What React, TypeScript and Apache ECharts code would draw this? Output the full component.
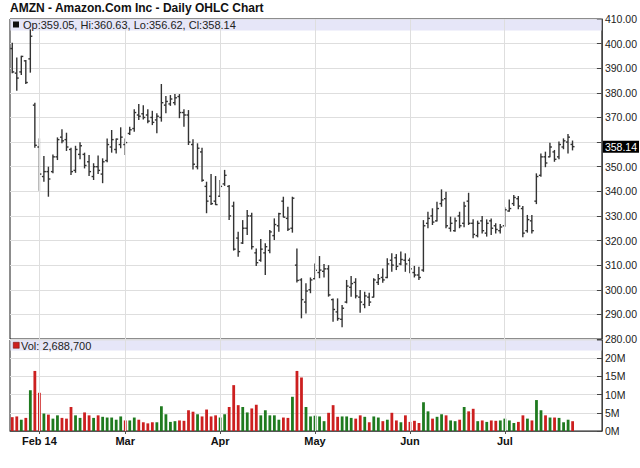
import React, { useEffect, useRef } from "react";
import * as echarts from "echarts";

// Trading days (2014), with empty padding days at the end of July
const jan14 = [24, 27, 28, 29, 30, 31];
const feb14 = [3, 4, 5, 6, 7, 10, 11, 12, 13, 14, 18, 19, 20, 21, 24, 25, 26, 27, 28];
const mar14 = [3, 4, 5, 6, 7, 10, 11, 12, 13, 14, 17, 18, 19, 20, 21, 24, 25, 26, 27, 28, 31];
const apr14 = [1, 2, 3, 4, 7, 8, 9, 10, 11, 14, 15, 16, 17, 21, 22, 23, 24, 25, 28, 29, 30];
const may14 = [1, 2, 5, 6, 7, 8, 9, 12, 13, 14, 15, 16, 19, 20, 21, 22, 23, 27, 28, 29, 30];
const jun14 = [2, 3, 4, 5, 6, 9, 10, 11, 12, 13, 16, 17, 18, 19, 20, 23, 24, 25, 26, 27, 30];
const jul14 = [1, 2, 3, 7, 8, 9, 10, 11, 14, 15, 16, 17, 18, 21, 22, 23, 24, 25, 28, 29, 30, 31];

const tickDates = ["2014-02-03", "2014-03-03", "2014-04-01", "2014-05-01", "2014-06-02", "2014-07-01"];
const tickLabels = ["Feb 14", "Mar", "Apr", "May", "Jun", "Jul"];

const priceTicks = { min: 280, max: 410, step: 10 };
const volTicks = { min: 0, max: 25, step: 5 };

const openP = [
  398, 388, 388.5, 393, 393.8, 375, 358, 346, 348, 348,
  354, 362, 361, 357, 348.5, 355, 355, 352, 346, 350,
  347, 352.5, 358, 357, 359, 359, 363.5, 365.5, 371, 371.5,
  371, 370, 369, 370, 375, 375.5, 376, 378.5, 372, 371,
  359, 350, 356, 342, 338, 336, 338, 343, 342, 334,
  321, 319, 325, 330, 315, 312, 315, 316, 322, 326,
  336, 329, 325, 310, 304, 295, 300, 304.5, 307, 307.5,
  308.5, 296, 291, 288, 295, 301, 303, 297, 294, 297,
  297, 303, 305, 305, 312, 313, 310.5, 312, 312, 307,
  306, 308, 327, 330, 328, 335, 337, 325, 324, 330,
  327, 336, 327, 322, 328, 323, 328, 326, 324, 326,
  332, 335, 337, 333, 324, 328, 336, 346.5, 354, 354,
  356, 354, 358, 360, 359.05,
];
const highP = [
  400.4, 394.4, 395.1, 393.3, 405.8, 376, 361.5, 354.3, 350, 355,
  361.9, 365.2, 363.8, 357.7, 358.5, 359.9, 355.7, 354.7, 351.4, 354.5,
  353.4, 361.5, 364.9, 361.5, 366, 361.5, 366.2, 373.3, 375.5, 375,
  373.3, 372.7, 371.7, 383.6, 378.7, 379.1, 379.5, 379.5, 373.3, 373,
  361.1, 359.5, 357.7, 343.9, 347, 346.2, 344.6, 348.7, 342.6, 335.8,
  323.6, 328.3, 332.4, 331.3, 316.8, 320.6, 318.9, 324.3, 329, 331.3,
  337.8, 333.7, 337.8, 316.8, 304.7, 302.6, 305, 310.7, 313.7, 310.5,
  310, 296.5, 296.5, 293.8, 304, 305.6, 304.7, 299.9, 299.2, 298.8,
  304.7, 306.4, 308.6, 312.8, 314.8, 314.5, 315.5, 314.8, 313, 309.7,
  309.4, 328.3, 331.7, 333.1, 335.8, 340.8, 339.8, 329.7, 329.4, 331.7,
  335.8, 339.4, 328.6, 328.1, 330, 328.6, 329, 327, 326.7, 333.5,
  336.7, 338.5, 338.1, 334, 330.4, 330.4, 347.3, 355.4, 356.1, 359.7,
  356.8, 360.2, 361.5, 363.3, 360.63,
];
const lowP = [
  388, 380.9, 387.3, 383.6, 388.2, 357.7, 340.2, 343.9, 337.8, 347.3,
  352.7, 359.5, 356.4, 346.6, 347.5, 353, 349.3, 346.2, 344.6, 347,
  343.3, 351.8, 355.7, 355.4, 357.5, 354.7, 362.9, 364.2, 369, 369.2,
  367.6, 366.9, 363.6, 368.3, 371.7, 374.7, 375, 369.7, 366.2, 358.8,
  348.9, 348.9, 343.9, 331.1, 334.4, 334.4, 337.8, 342.2, 328.3, 315.9,
  313.4, 318.6, 322.3, 316.4, 309.7, 311.4, 306, 314.8, 320.2, 323.6,
  329.4, 323.9, 323.2, 303, 288.4, 290.4, 298.6, 304.3, 304.7, 305,
  297.2, 287, 287.4, 284.8, 294.5, 297.2, 296.5, 290.7, 292.5, 293.4,
  296.9, 301.9, 302.9, 304.7, 307.3, 308, 310, 307.3, 306.7, 305,
  304, 307.3, 325, 326.3, 327.7, 333.7, 325, 323.6, 323.6, 325,
  325.4, 326.3, 320.9, 321.3, 322.9, 321.6, 322.3, 322.9, 322.9, 325.6,
  331.7, 334, 332.7, 321.3, 323.2, 322.9, 334.8, 345.9, 349.8, 353.8,
  352, 353, 357.1, 355.4, 356.62,
];
const closeP = [
  388.5, 386, 394.8, 384.2, 403, 358.7, 347, 348, 345, 354,
  361, 360.5, 358, 348, 357, 358.5, 350.5, 348, 350, 348.5,
  352, 359, 361, 361.2, 362, 359.8, 365, 372, 370.5, 370,
  368.5, 368, 370.5, 376, 376.5, 377.5, 378, 372, 371, 360,
  351, 357.5, 344.5, 336, 335, 334.6, 342, 346.5, 330, 316.5,
  315.5, 325, 330, 317.5, 311, 316.5, 317.5, 323.5, 326.5, 330.9,
  329.5, 324.6, 337.2, 303.8, 296, 299.5, 304, 307.9, 308, 308.5,
  297.9, 292, 288.3, 292.5, 301.5, 302.5, 297.5, 295, 297.5, 295,
  304, 304.5, 304, 310.5, 310, 309.5, 312.3, 310.5, 308.5, 306,
  305, 326, 329, 327.5, 333, 336.5, 326, 327, 328, 326,
  334, 327, 322.5, 327, 324, 327, 325, 324.5, 325.5, 332.5,
  333, 337.5, 334, 323, 328.5, 324, 346, 354, 351.5, 358,
  353, 359, 360.5, 362, 358.14,
];
// volume in millions
const volumeM = [
  3.8, 4.0, 3.1, 3.6, 11.2, 16.5, 10.5, 4.8, 4.5, 3.4,
  4.3, 3.6, 3.4, 6.6, 4.3, 3.6, 5.1, 4.3, 3.6, 4.3,
  3.9, 3.7, 3.7, 3.1, 4.0, 2.9, 2.9, 3.7, 3.1, 2.4,
  2.1, 2.4, 2.4, 6.8, 4.6, 2.5, 2.7, 2.9, 2.8, 5.7,
  5.3, 4.6, 4.0, 5.9, 4.0, 4.3, 3.7, 4.6, 6.6, 12.6,
  7.1, 6.6, 5.1, 6.2, 7.2, 4.3, 5.7, 4.3, 4.3, 3.1,
  3.7, 3.6, 9.4, 16.5, 14.7, 6.6, 4.0, 4.2, 4.0, 2.7,
  5.0, 7.1, 3.9, 4.0, 4.0, 3.6, 3.4, 4.3, 3.9, 2.4,
  4.0, 3.7, 2.7, 3.1, 5.0, 2.9, 2.4, 4.3, 2.5, 2.8,
  2.2, 7.9, 5.4, 3.4, 3.9, 4.6, 4.3, 2.9, 2.7, 3.1,
  6.6, 5.4, 6.1, 2.7, 2.9, 2.5, 2.9, 2.8, 2.9, 3.4,
  2.9, 2.2, 2.5, 4.3, 3.4, 2.9, 8.5, 5.7, 4.3, 3.7,
  3.7, 3.6, 2.4, 3.1, 2.6887,
];

const UP = "#1f7a1f";
const DOWN = "#cc1f1f";
const BAR = "#333333";
const FONT = "'Liberation Sans', Arial, sans-serif";

function buildDates(): string[] {
  const out: string[] = [];
  const add = (m: string, days: number[]) =>
    days.forEach((d) => out.push(`2014-${m}-${d < 10 ? "0" + d : d}`));
  add("01", jan14);
  add("02", feb14);
  add("03", mar14);
  add("04", apr14);
  add("05", may14);
  add("06", jun14);
  add("07", jul14);
  return out;
}

export default function App() {
  const ref = useRef<HTMLDivElement>(null);
  useEffect(() => {
    if (!ref.current) return;
    const chart = echarts.init(ref.current, null, { renderer: "svg" });
    const dates = buildDates();
    const last = closeP.length - 1;
    const lastClose = closeP[last];
    const ohlc = closeP.map((c, i) => [i, openP[i], highP[i], lowP[i], c]);
    const vols = volumeM.map((v, i) => {
      const prev = i === 0 ? openP[0] : closeP[i - 1];
      return { value: v, itemStyle: { color: closeP[i] >= prev ? UP : DOWN } };
    });
    const tickIdx = tickDates.map((d) => dates.indexOf(d));
    const isTick = (i: number) => tickIdx.indexOf(i) >= 0;
    const gridMarks = tickDates.map((d) => ({ xAxis: d }));
    const gridLineStyle = { color: "#dedede", width: 1, type: "solid" as const };
    const fmt2 = (n: number) => n.toFixed(2);
    const volText =
      "Vol: " + Math.round(volumeM[last] * 1e6).toLocaleString("en-US");
    const legendText = `Op:${fmt2(openP[last])}, Hi:${fmt2(highP[last])}, Lo:${fmt2(lowP[last])}, Cl:${fmt2(lastClose)}`;

    chart.setOption({
      animation: false,
      backgroundColor: "#ffffff",
      textStyle: { fontFamily: FONT },
      grid: [
        { left: 10, top: 19, width: 592, height: 320, show: true, borderColor: "#1a1a1a", borderWidth: 1, backgroundColor: "transparent" },
        { left: 10, top: 340, width: 592, height: 91, show: true, borderColor: "#1a1a1a", borderWidth: 1, backgroundColor: "transparent" },
      ],
      xAxis: [
        {
          type: "category", gridIndex: 0, data: dates, boundaryGap: true,
          axisLine: { show: false }, axisTick: { show: false }, axisLabel: { show: false }, splitLine: { show: false },
        },
        {
          type: "category", gridIndex: 1, data: dates, boundaryGap: true,
          axisLine: { show: true, lineStyle: { color: "#555", width: 1 } },
          axisTick: { show: true, interval: (i: number) => isTick(i), alignWithLabel: true, length: 3, lineStyle: { color: "#555" } },
          axisLabel: {
            show: true, interval: (i: number) => isTick(i), margin: 4,
            formatter: (_v: string, i: number) => { const k = tickIdx.indexOf(i); return k >= 0 ? tickLabels[k] : ""; },
            fontFamily: FONT, fontSize: 11, fontWeight: "bold", color: "#111",
          },
          splitLine: { show: false },
        },
      ],
      yAxis: [
        {
          type: "value", gridIndex: 0, position: "right", min: priceTicks.min, max: priceTicks.max, interval: priceTicks.step,
          axisLine: { show: true, lineStyle: { color: "#444", width: 1 } },
          axisTick: { show: true, inside: true, length: 5, lineStyle: { color: "#444" } },
          axisLabel: {
            // the tick label hidden behind the last-price tag is left out
            formatter: (v: number) => (Math.abs(v - lastClose) < 5 ? "" : v.toFixed(2)),
            margin: 3, fontFamily: FONT, fontSize: 10.5, color: "#222",
          },
          splitLine: { show: true, lineStyle: gridLineStyle },
        },
        {
          type: "value", gridIndex: 1, position: "right", min: volTicks.min, max: volTicks.max, interval: volTicks.step,
          axisLine: { show: true, lineStyle: { color: "#444", width: 1 } },
          axisTick: { show: true, inside: true, length: 5, lineStyle: { color: "#444" } },
          axisLabel: {
            formatter: (v: number) => (v >= volTicks.max ? "" : v + "M"), margin: 3,
            fontFamily: FONT, fontSize: 10.5, color: "#222",
          },
          splitLine: { show: true, lineStyle: gridLineStyle },
        },
      ],
      graphic: [
        { type: "text", left: 10, top: 2, z: 10, style: { text: "AMZN - Amazon.Com Inc - Daily OHLC Chart", font: `bold 12px ${FONT}`, fill: "#111" } },
        { type: "rect", left: 10.5, top: 19.5, z: 1, shape: { width: 591, height: 11 }, style: { fill: "#e6e6f8" } },
        { type: "rect", left: 13, top: 21.5, z: 10, shape: { width: 6, height: 6 }, style: { fill: "#111" } },
        { type: "text", left: 23, top: 19.5, z: 10, style: { text: legendText, font: `11px 'Liberation Sans Narrow', ${FONT}`, fill: "#222" } },
        { type: "rect", left: 10.5, top: 340.5, z: 1, shape: { width: 591, height: 10 }, style: { fill: "#e6e6f8" } },
        { type: "rect", left: 13, top: 342, z: 10, shape: { width: 6, height: 6 }, style: { fill: DOWN, stroke: "#600", lineWidth: 0.5 } },
        { type: "text", left: 21, top: 340, z: 10, style: { text: volText, font: `11px 'Liberation Sans Narrow', ${FONT}`, fill: "#222" } },
      ],
      series: [
        {
          type: "custom", name: "AMZN", xAxisIndex: 0, yAxisIndex: 0, z: 3,
          data: ohlc, encode: { x: 0, y: [1, 2, 3, 4] },
          renderItem: (_p: any, api: any) => {
            const x = api.value(0);
            const pH = api.coord([x, api.value(2)]);
            const pL = api.coord([x, api.value(3)]);
            const pO = api.coord([x, api.value(1)]);
            const pC = api.coord([x, api.value(4)]);
            const style = { stroke: BAR, lineWidth: 1.4 };
            return {
              type: "group",
              children: [
                { type: "line", shape: { x1: pH[0], y1: pH[1], x2: pL[0], y2: pL[1] }, style },
                { type: "line", shape: { x1: pO[0] - 2, y1: pO[1], x2: pO[0], y2: pO[1] }, style },
                { type: "line", shape: { x1: pC[0], y1: pC[1], x2: pC[0] + 2, y2: pC[1] }, style },
              ],
            };
          },
          markLine: {
            silent: true, symbol: ["none", "none"], animation: false,
            data: [
              ...gridMarks.map((m) => ({ ...m, lineStyle: gridLineStyle, label: { show: false } })),
              {
                yAxis: lastClose,
                lineStyle: { color: "rgba(0,0,0,0)", width: 0 },
                label: {
                  show: true, position: "end", distance: 1, formatter: fmt2(lastClose),
                  color: "#fff", backgroundColor: "#000", padding: [1, 2, 0, 2],
                  fontFamily: FONT, fontSize: 10.5,
                },
              },
            ],
          },
        },
        {
          type: "bar", name: "Volume", xAxisIndex: 1, yAxisIndex: 1, z: 3,
          data: vols, barWidth: 2.8,
          markLine: {
            silent: true, symbol: ["none", "none"], animation: false,
            lineStyle: gridLineStyle, label: { show: false },
            data: gridMarks,
          },
        },
      ],
    });
    return () => chart.dispose();
  }, []);
  return <div ref={ref} style={{ position: "fixed", left: 0, top: 0, width: 640, height: 468 }} />;
}
